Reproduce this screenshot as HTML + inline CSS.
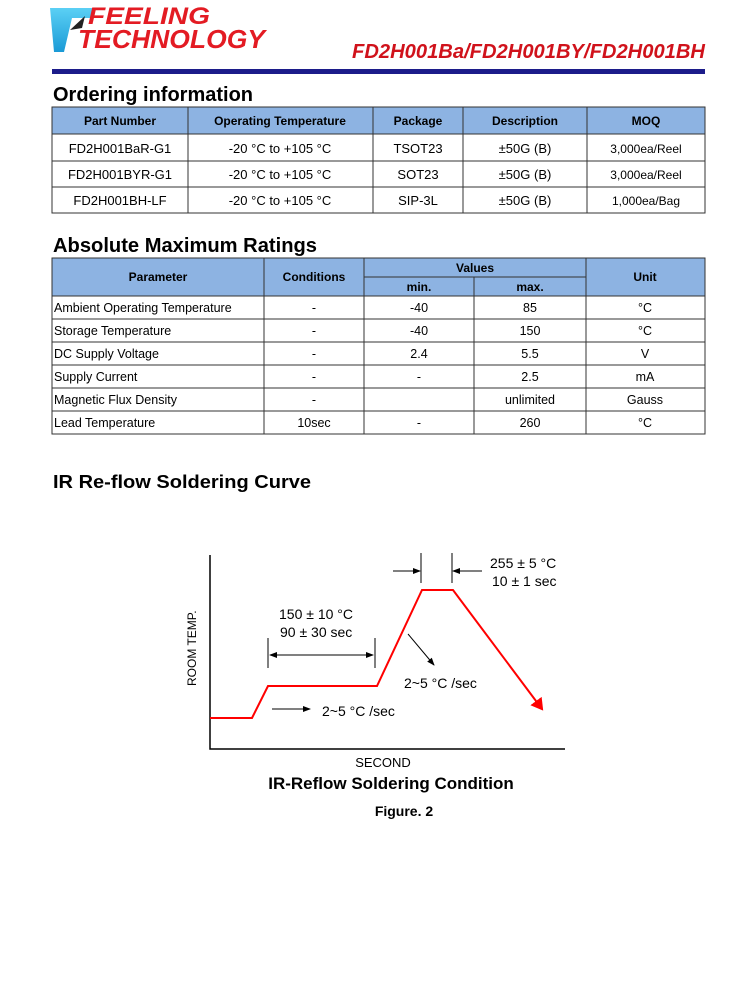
<!DOCTYPE html>
<html><head><meta charset="utf-8"><style>
body{margin:0;background:#fff}
svg{display:block;font-family:"Liberation Sans",Arial,sans-serif}
</style></head><body>
<svg width="750" height="1000" viewBox="0 0 750 1000" xmlns="http://www.w3.org/2000/svg">
<defs>
<linearGradient id="lg" x1="0" y1="0" x2="0" y2="1"><stop offset="0" stop-color="#5bd0f5"/><stop offset="1" stop-color="#1a9ad6"/></linearGradient>
<marker id="ab" markerWidth="8" markerHeight="8" refX="7" refY="4" orient="auto" markerUnits="userSpaceOnUse"><path d="M0,1 L8,4 L0,7z" fill="#000"/></marker>
<marker id="ar" markerWidth="16" markerHeight="14" refX="10" refY="7" orient="auto" markerUnits="userSpaceOnUse"><path d="M0,0 L12,7 L0,14z" fill="#f00"/></marker>
</defs>
<!-- logo -->
<path d="M50,8 L95,8 L90,18 L72,18 L64,52 L54,52z" fill="url(#lg)"/>
<path d="M70,30 L85,16 L82,28z" fill="#222"/>
<text x="88" y="24" font-size="24" font-weight="bold" font-style="italic" fill="#e31b23" textLength="122" lengthAdjust="spacingAndGlyphs">FEELING</text>
<text x="78" y="48" font-size="26" font-weight="bold" font-style="italic" fill="#e31b23" textLength="187" lengthAdjust="spacingAndGlyphs">TECHNOLOGY</text>
<text x="705" y="58" font-size="20" font-weight="bold" font-style="italic" fill="#d0121b" text-anchor="end" textLength="353" lengthAdjust="spacingAndGlyphs">FD2H001Ba/FD2H001BY/FD2H001BH</text>
<rect x="52" y="69" width="653" height="5" fill="#1c1c8a"/>
<!-- ordering -->
<text x="53" y="101" font-size="20" font-weight="bold" textLength="200" lengthAdjust="spacingAndGlyphs">Ordering information</text>
<rect x="52" y="107" width="653" height="27" fill="#8db3e2"/>
<g stroke="#333" stroke-width="1" fill="none">
<rect x="52" y="107" width="653" height="106"/>
<line x1="52" y1="134" x2="705" y2="134"/><line x1="52" y1="161" x2="705" y2="161"/><line x1="52" y1="187" x2="705" y2="187"/>
<line x1="188" y1="107" x2="188" y2="213"/><line x1="373" y1="107" x2="373" y2="213"/><line x1="463" y1="107" x2="463" y2="213"/><line x1="587" y1="107" x2="587" y2="213"/>
</g>
<g font-size="12" font-weight="bold" text-anchor="middle">
<text x="120" y="125">Part Number</text><text x="280" y="125">Operating Temperature</text><text x="418" y="125">Package</text><text x="525" y="125">Description</text><text x="646" y="125">MOQ</text>
</g>
<g font-size="13" text-anchor="middle">
<text x="120" y="153">FD2H001BaR-G1</text><text x="280" y="153">-20 °C to +105 °C</text><text x="418" y="153">TSOT23</text><text x="525" y="153">±50G (B)</text><text x="646" y="153" font-size="12">3,000ea/Reel</text>
<text x="120" y="179">FD2H001BYR-G1</text><text x="280" y="179">-20 °C to +105 °C</text><text x="418" y="179">SOT23</text><text x="525" y="179">±50G (B)</text><text x="646" y="179" font-size="12">3,000ea/Reel</text>
<text x="120" y="205">FD2H001BH-LF</text><text x="280" y="205">-20 °C to +105 °C</text><text x="418" y="205">SIP-3L</text><text x="525" y="205">±50G (B)</text><text x="646" y="205" font-size="12">1,000ea/Bag</text>
</g>
<!-- abs max -->
<text x="53" y="252" font-size="20" font-weight="bold" textLength="264" lengthAdjust="spacingAndGlyphs">Absolute Maximum Ratings</text>
<rect x="52" y="258" width="653" height="38" fill="#8db3e2"/>
<g stroke="#333" stroke-width="1" fill="none">
<rect x="52" y="258" width="653" height="176"/>
<line x1="364" y1="277" x2="586" y2="277"/>
<line x1="52" y1="296" x2="705" y2="296"/><line x1="52" y1="319" x2="705" y2="319"/><line x1="52" y1="342" x2="705" y2="342"/><line x1="52" y1="365" x2="705" y2="365"/><line x1="52" y1="388" x2="705" y2="388"/><line x1="52" y1="411" x2="705" y2="411"/>
<line x1="264" y1="258" x2="264" y2="434"/><line x1="364" y1="258" x2="364" y2="434"/><line x1="474" y1="277" x2="474" y2="434"/><line x1="586" y1="258" x2="586" y2="434"/>
</g>
<g font-size="12" font-weight="bold" text-anchor="middle">
<text x="158" y="281">Parameter</text><text x="314" y="281">Conditions</text><text x="475" y="272">Values</text><text x="419" y="291">min.</text><text x="530" y="291">max.</text><text x="645" y="281">Unit</text>
</g>
<g font-size="12.5">
<text x="54" y="312">Ambient Operating Temperature</text><text x="54" y="335">Storage Temperature</text><text x="54" y="358">DC Supply Voltage</text><text x="54" y="381">Supply Current</text><text x="54" y="404">Magnetic Flux Density</text><text x="54" y="427">Lead Temperature</text>
</g>
<g font-size="12.5" text-anchor="middle">
<text x="314" y="312">-</text><text x="419" y="312">-40</text><text x="530" y="312">85</text><text x="645" y="312">°C</text>
<text x="314" y="335">-</text><text x="419" y="335">-40</text><text x="530" y="335">150</text><text x="645" y="335">°C</text>
<text x="314" y="358">-</text><text x="419" y="358">2.4</text><text x="530" y="358">5.5</text><text x="645" y="358">V</text>
<text x="314" y="381">-</text><text x="419" y="381">-</text><text x="530" y="381">2.5</text><text x="645" y="381">mA</text>
<text x="314" y="404">-</text><text x="530" y="404">unlimited</text><text x="645" y="404">Gauss</text>
<text x="314" y="427">10sec</text><text x="419" y="427">-</text><text x="530" y="427">260</text><text x="645" y="427">°C</text>
</g>
<!-- curve -->
<text x="53" y="488" font-size="18" font-weight="bold" textLength="258" lengthAdjust="spacingAndGlyphs">IR Re-flow Soldering Curve</text>
<path d="M210,555 L210,749 L565,749" stroke="#000" stroke-width="1.5" fill="none"/>
<polyline points="210,718 252,718 268,686 377,686 422,590 453,590 542,709" stroke="#f00" stroke-width="2" fill="none" marker-end="url(#ar)"/>
<g stroke="#000" stroke-width="1" fill="none">
<line x1="421" y1="553" x2="421" y2="583"/><line x1="452" y1="553" x2="452" y2="583"/>
<line x1="393" y1="571" x2="420" y2="571" marker-end="url(#ab)"/><line x1="482" y1="571" x2="453" y2="571" marker-end="url(#ab)"/>
<line x1="268" y1="638" x2="268" y2="668"/><line x1="375" y1="638" x2="375" y2="668"/>
<line x1="270" y1="655" x2="373" y2="655" marker-end="url(#ab)"/><line x1="373" y1="655" x2="270" y2="655" marker-end="url(#ab)"/>
<line x1="408" y1="634" x2="434" y2="665" marker-end="url(#ab)"/>
<line x1="272" y1="709" x2="310" y2="709" marker-end="url(#ab)"/>
</g>
<g font-size="14">
<text x="490" y="568">255 ± 5 °C</text><text x="492" y="586">10 ± 1 sec</text>
<text x="279" y="619">150 ± 10 °C</text><text x="280" y="637">90 ± 30 sec</text>
<text x="404" y="688">2~5 °C /sec</text>
<text x="322" y="716">2~5 °C /sec</text>
</g>
<text transform="translate(196,686) rotate(-90)" font-size="12">ROOM TEMP.</text>
<text x="383" y="767" font-size="13" text-anchor="middle">SECOND</text>
<text x="391" y="789" font-size="17" font-weight="bold" text-anchor="middle">IR-Reflow Soldering Condition</text>
<text x="404" y="816" font-size="14" font-weight="bold" text-anchor="middle">Figure. 2</text>
</svg>
</body></html>
